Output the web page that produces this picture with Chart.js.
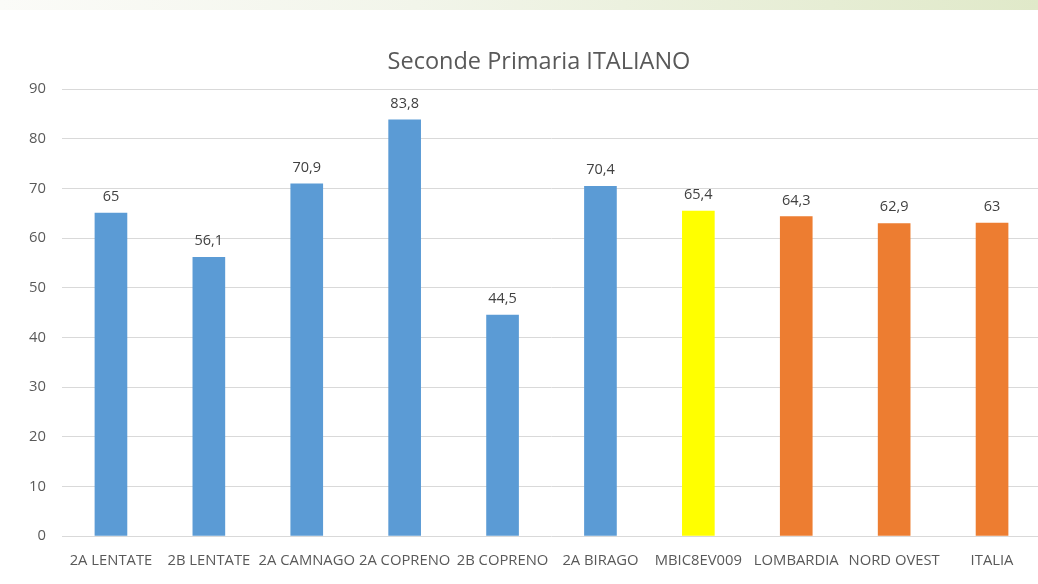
<!DOCTYPE html>
<html>
<head>
<meta charset="utf-8">
<script src="https://cdn.jsdelivr.net/npm/chart.js@4.4.0/dist/chart.umd.min.js"></script>
<style>
  html, body { margin: 0; padding: 0; background: #fff; overflow: hidden; }
  #band { position: absolute; left: 0; top: 0; width: 1038px; height: 10px;
          background: linear-gradient(to right, #fbfbf8, #f2f5ea 40%, #e0e9c9); }
  #chart { position: absolute; left: 0; top: 0; }
</style>
</head>
<body>
<canvas id="chart" width="1044" height="584"></canvas>
<div id="band"></div>
<script>
const chartTitle = "Seconde Primaria ITALIANO";
const categories = ["2A LENTATE", "2B LENTATE", "2A CAMNAGO", "2A COPRENO", "2B COPRENO",
                    "2A BIRAGO", "MBIC8EV009", "LOMBARDIA", "NORD OVEST", "ITALIA"];
const values     = [65, 56.1, 70.9, 83.8, 44.5, 70.4, 65.4, 64.3, 62.9, 63];
const barColors  = ["#5B9BD5", "#5B9BD5", "#5B9BD5", "#5B9BD5", "#5B9BD5",
                    "#5B9BD5", "#FFFF00", "#ED7D31", "#ED7D31", "#ED7D31"];
const yTicks     = [0, 10, 20, 30, 40, 50, 60, 70, 80, 90];

const FONT = "'Open Sans', 'Liberation Sans', sans-serif";

// title centred over the whole slide, not only the canvas
const slideTitle = {
    id: "slideTitle",
    afterDraw(chart) {
        const ctx = chart.ctx;
        ctx.save();
        ctx.font = "23.5px " + FONT;
        ctx.fillStyle = "#595959";
        ctx.textAlign = "center";
        ctx.textBaseline = "middle";
        ctx.fillText(chartTitle, 539, 62);
        ctx.restore();
    }
};

// value labels above each bar, italian decimal comma
const valueLabels = {
    id: "valueLabels",
    afterDatasetsDraw(chart) {
        const ctx  = chart.ctx;
        const meta = chart.getDatasetMeta(0);
        ctx.save();
        ctx.font = "14.5px " + FONT;
        ctx.fillStyle = "#404040";
        ctx.textAlign = "center";
        ctx.textBaseline = "bottom";
        meta.data.forEach((bar, i) => {
            ctx.fillText(String(values[i]).replace(".", ","), bar.x, bar.y - 9);
        });
        ctx.restore();
    }
};

new Chart(document.getElementById("chart"), {
    type: "bar",
    data: {
        labels: categories,
        datasets: [{
            data: values,
            backgroundColor: barColors,
            barThickness: 32
        }]
    },
    plugins: [valueLabels, slideTitle],
    options: {
        responsive: false,
        animation: false,
        devicePixelRatio: 1,
        layout: { padding: { left: 0, right: 3, top: 89, bottom: 0 } },
        plugins: {
            legend:  { display: false },
            tooltip: { enabled: false },
            title:   { display: false }
        },
        scales: {
            x: {
                grid: { display: false },
                border: { display: false },
                ticks: {
                    color: "#595959",
                    font: { family: FONT, size: 14.8 },
                    autoSkip: false, maxRotation: 0, minRotation: 0,
                    padding: 8
                },
                afterFit(scale) { scale.height = 48; }
            },
            y: {
                min: 0, max: 90,
                grid: { color: "#d9d9d9", lineWidth: 1, drawTicks: false },
                border: { display: false },
                ticks: {
                    stepSize: 10,
                    color: "#595959",
                    font: { family: FONT, size: 14.8 },
                    padding: 16,
                    callback: (v) => yTicks.includes(v) ? v : ""
                },
                afterFit(scale) { scale.width = 62; }
            }
        }
    }
});
</script>
</body>
</html>
